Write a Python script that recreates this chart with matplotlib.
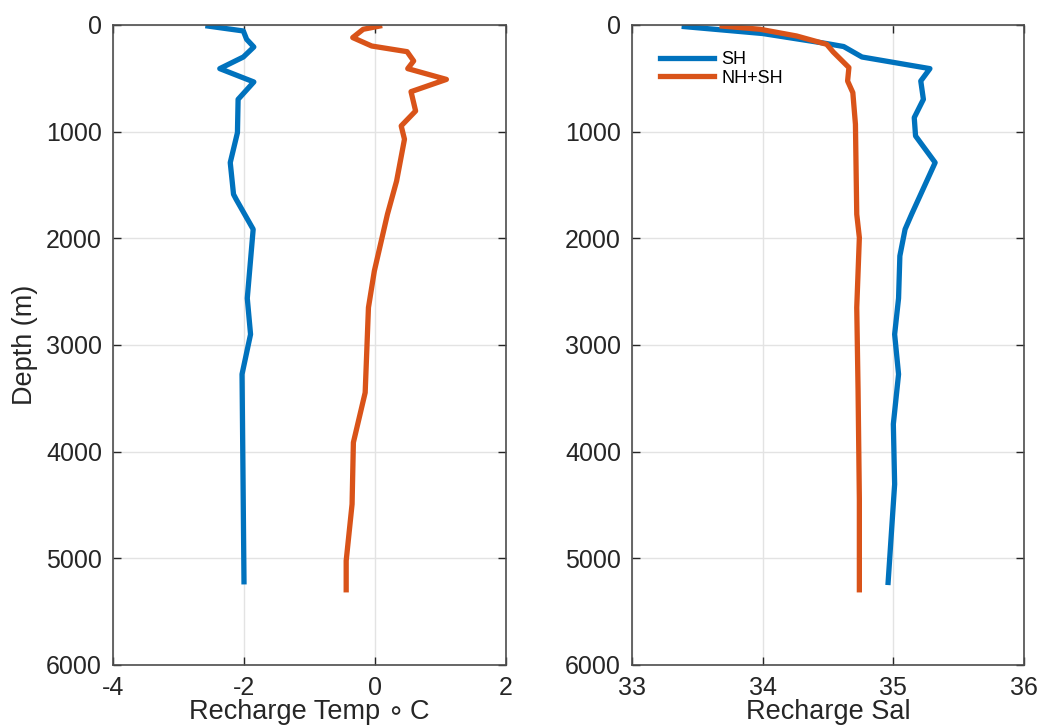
import numpy as np
import matplotlib
matplotlib.use("Agg")
import matplotlib.pyplot as plt

plt.rcParams["font.family"] = ["Liberation Sans", "DejaVu Sans"]
plt.rcParams["axes.unicode_minus"] = False

# Recharge temperature profiles (depth in m, temperature in deg C)
temp_sh_depth = [10, 56, 134, 206, 300, 409, 534, 697, 1009, 1290, 1587, 1634,
                 1915, 2562, 2900, 3274, 5220]
temp_sh = [-2.55, -2.01, -1.96, -1.85, -2.01, -2.37, -1.85, -2.09, -2.10, -2.21,
           -2.16, -2.12, -1.86, -1.95, -1.90, -2.03, -2.00]

temp_nhsh_depth = [10, 40, 118, 197, 250, 337, 409, 510, 625, 806, 946, 1071,
                   1462, 1774, 2306, 2649, 3446, 3914, 4492, 5023, 5295]
temp_nhsh = [0.07, -0.18, -0.34, -0.05, 0.49, 0.59, 0.50, 1.09, 0.55, 0.62, 0.40,
             0.45, 0.33, 0.19, -0.01, -0.10, -0.15, -0.33, -0.35, -0.44, -0.44]

# Recharge salinity profiles
sal_sh_depth = [15, 80, 174, 202, 300, 409, 525, 697, 868, 1040, 1290, 1774,
                1915, 2165, 2562, 2900, 3274, 3742, 4305, 5226]
sal_sh = [33.40, 34.00, 34.49, 34.62, 34.76, 35.28, 35.21, 35.23, 35.16, 35.17,
          35.32, 35.14, 35.09, 35.05, 35.04, 35.01, 35.04, 35.00, 35.01, 34.96]

sal_nhsh_depth = [10, 40, 103, 181, 253, 399, 525, 634, 931, 1774, 1993, 2649,
                  3415, 4446, 5295]
sal_nhsh = [33.69, 33.98, 34.26, 34.49, 34.54, 34.66, 34.65, 34.69, 34.71, 34.72,
            34.74, 34.72, 34.73, 34.74, 34.74]

BLUE = "#0072BD"
ORANGE = "#D95319"
AX_COLOR = "#4d4d4d"
LABEL_SIZE = 19.5


def style_axes(ax, xlim, xticks):
    ax.set_xlim(*xlim)
    ax.set_xticks(xticks)
    ax.set_ylim(6000, 0)
    ax.set_yticks(np.arange(0, 6001, 1000))
    ax.grid(True, color="#e3e3e3", linewidth=1)
    ax.set_axisbelow(True)
    ax.tick_params(direction="in", length=6, width=1, top=True, right=True,
                   labelsize=18, colors="#262626", pad=8)
    for s in ax.spines.values():
        s.set_color(AX_COLOR)
        s.set_linewidth(1.2)


fig = plt.figure(figsize=(10.4, 7.28), dpi=100)
ax1 = fig.add_axes([113 / 1040, 1 - 665 / 728, 393 / 1040, 640 / 728])
ax2 = fig.add_axes([632 / 1040, 1 - 665 / 728, 392 / 1040, 640 / 728])

ax1.plot(temp_sh, temp_sh_depth, color=BLUE, linewidth=3.8)
ax1.plot(temp_nhsh, temp_nhsh_depth, color=ORANGE, linewidth=3.8)
style_axes(ax1, (-4, 2), [-4, -2, 0, 2])
ax1.set_ylabel("Depth (m)", fontsize=LABEL_SIZE, color="#262626", labelpad=6)
ax1.set_xlabel("Recharge Temp \u2218\u2009C", fontsize=LABEL_SIZE, color="#262626",
               labelpad=-1)

ax2.plot(sal_sh, sal_sh_depth, color=BLUE, linewidth=3.8, label="SH")
ax2.plot(sal_nhsh, sal_nhsh_depth, color=ORANGE, linewidth=3.8, label="NH+SH")
style_axes(ax2, (33, 36), [33, 34, 35, 36])
ax2.set_xlabel("Recharge Sal", fontsize=LABEL_SIZE, color="#262626", labelpad=-1)
ax2.legend(loc="upper left", frameon=False, fontsize=13, handlelength=3.0,
           handletextpad=0.4, labelspacing=0.1, borderaxespad=0.5,
           bbox_to_anchor=(0.03, 0.985))

fig.savefig("out.png", dpi=100)
